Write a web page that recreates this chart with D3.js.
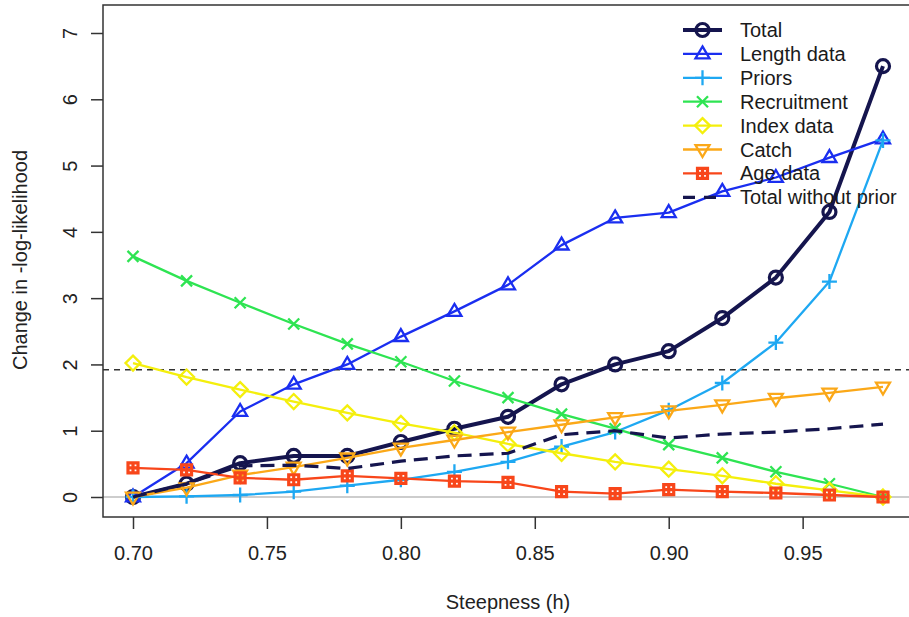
<!DOCTYPE html>
<html>
<head>
<meta charset="utf-8">
<script src="https://cdn.jsdelivr.net/npm/d3@7"></script>
<style>
html,body{margin:0;padding:0;background:#fff;}
svg{display:block;font-family:"Liberation Sans",Arial,Helvetica,sans-serif;}
</style>
</head>
<body>
<svg id="chart" width="909" height="617"></svg>
<script>
const steepness = [0.70,0.72,0.74,0.76,0.78,0.80,0.82,0.84,0.86,0.88,0.90,0.92,0.94,0.96,0.98];
const total       = [0, 0.2, 0.51, 0.62, 0.62, 0.83, 1.03, 1.21, 1.7, 2.0, 2.2, 2.7, 3.31, 4.3, 6.5];
const lengthData  = [0, 0.51, 1.29, 1.7, 2.0, 2.42, 2.8, 3.2, 3.8, 4.21, 4.29, 4.61, 4.82, 5.12, 5.4];
const priors      = [0, 0.01, 0.03, 0.08, 0.17, 0.26, 0.38, 0.53, 0.76, 0.98, 1.31, 1.72, 2.33, 3.25, 5.38];
const recruitment = [3.63, 3.26, 2.93, 2.61, 2.31, 2.04, 1.75, 1.5, 1.25, 1.03, 0.79, 0.59, 0.38, 0.2, 0];
const indexData   = [2.02, 1.81, 1.62, 1.44, 1.27, 1.11, 0.97, 0.8, 0.66, 0.53, 0.42, 0.32, 0.2, 0.1, 0];
const catchData   = [0, 0.14, 0.33, 0.45, 0.59, 0.74, 0.86, 0.98, 1.09, 1.2, 1.3, 1.39, 1.49, 1.57, 1.66];
const ageData     = [0.44, 0.41, 0.29, 0.26, 0.32, 0.28, 0.24, 0.22, 0.08, 0.05, 0.11, 0.08, 0.06, 0.03, 0];
const totalNoPrior= [0, 0.2, 0.47, 0.48, 0.43, 0.54, 0.62, 0.66, 0.94, 1.0, 0.89, 0.95, 0.98, 1.03, 1.1];
const xTicks = [0.70, 0.75, 0.80, 0.85, 0.90, 0.95];
const yTicks = [0, 1, 2, 3, 4, 5, 6, 7];
const chiLine = 1.92;
const legendLabels = ["Total","Length data","Priors","Recruitment","Index data","Catch","Age data","Total without prior"];

const series = [
  {name:"Total", values: total, color:"#15154e", width:4, marker:"circle", mw:3.2},
  {name:"Length data", values: lengthData, color:"#1a2ef0", width:2.3, marker:"triangle", mw:2.3},
  {name:"Priors", values: priors, color:"#1ea8f2", width:2.3, marker:"plus", mw:2.3},
  {name:"Recruitment", values: recruitment, color:"#2ee452", width:2.3, marker:"cross", mw:2.3},
  {name:"Index data", values: indexData, color:"#f4ef0c", width:2.3, marker:"diamond", mw:2.3},
  {name:"Catch", values: catchData, color:"#fba818", width:2.3, marker:"tridown", mw:2.3},
  {name:"Age data", values: ageData, color:"#f8461a", width:2.3, marker:"squareplus", mw:3.2},
  {name:"Total without prior", values: totalNoPrior, color:"#15154e", width:3.2, marker:null, dash:"14,8"}
];

const svg = d3.select("#chart");
const x = d3.scaleLinear().domain([0.6888, 0.9912]).range([103, 913]);
const y = d3.scaleLinear().domain([0, 7]).range([497, 33]);
const boxTop = 5, boxBottom = 517;
const FS = 20;

function markerPath(type){
  switch(type){
    case "circle": return "M6.5,0A6.5,6.5 0 1,1 -6.5,0A6.5,6.5 0 1,1 6.5,0Z";
    case "triangle": return "M0,-7.5L7,4.4L-7,4.4Z";
    case "tridown": return "M0,7.5L7,-4.4L-7,-4.4Z";
    case "plus": return "M-7.5,0L7.5,0M0,-7.5L0,7.5";
    case "cross": return "M-5.5,-5.5L5.5,5.5M-5.5,5.5L5.5,-5.5";
    case "diamond": return "M0,-7.5L7.5,0L0,7.5L-7.5,0Z";
    case "squareplus": return "M-5,-5L5,-5L5,5L-5,5ZM-5,0L5,0M0,-5L0,5";
  }
  return "";
}

// zero line
svg.append("line").attr("x1",103).attr("x2",913).attr("y1",y(0)).attr("y2",y(0))
  .attr("stroke","#bdbdbd").attr("stroke-width",1.5);
// chi-square line
svg.append("line").attr("x1",103).attr("x2",913).attr("y1",y(chiLine)).attr("y2",y(chiLine))
  .attr("stroke","#333").attr("stroke-width",1.5).attr("stroke-dasharray","6,5");

const line = d3.line().x((d,i)=>x(steepness[i])).y(d=>y(d));
series.forEach(s=>{
  const g = svg.append("g");
  g.append("path").datum(s.values).attr("d",line).attr("fill","none")
    .attr("stroke",s.color).attr("stroke-width",s.width)
    .attr("stroke-dasharray",s.dash||null).attr("stroke-linejoin","round");
  if(s.marker){
    g.selectAll("path.m").data(s.values).join("path").attr("class","m")
      .attr("d",markerPath(s.marker))
      .attr("transform",(d,i)=>`translate(${x(steepness[i])},${y(d)})`)
      .attr("fill","none").attr("stroke",s.color).attr("stroke-width",s.mw);
  }
});

// box
svg.append("rect").attr("x",103).attr("y",boxTop).attr("width",810).attr("height",boxBottom-boxTop)
  .attr("fill","none").attr("stroke","#333").attr("stroke-width",1.5);

// x axis
const xAxis = svg.append("g").attr("transform",`translate(0,${boxBottom})`)
  .call(d3.axisBottom(x).tickValues(xTicks).tickFormat(d3.format(".2f")).tickSize(12).tickPadding(17));
xAxis.select(".domain").remove();
xAxis.selectAll("line").attr("stroke","#333").attr("stroke-width",1.5);
xAxis.selectAll("text").attr("font-size",FS).attr("fill","#222").style("font-family","Liberation Sans, Arial, sans-serif");

// y axis
const yAxis = svg.append("g").attr("transform",`translate(103,0)`)
  .call(d3.axisLeft(y).tickValues(yTicks).tickFormat(d3.format("d")).tickSize(12));
yAxis.select(".domain").remove();
yAxis.selectAll("line").attr("stroke","#333").attr("stroke-width",1.5);
yAxis.selectAll("text").attr("font-size",FS).attr("fill","#222")
  .attr("x",null).attr("dy","0.35em").attr("text-anchor","middle")
  .attr("transform","translate(-33,0) rotate(-90)")
  .style("font-family","Liberation Sans, Arial, sans-serif");

// axis titles
svg.append("text").attr("x",508).attr("y",609).attr("text-anchor","middle")
  .attr("font-size",FS).attr("fill","#222").text("Steepness (h)");
svg.append("text").attr("transform","translate(27,260) rotate(-90)").attr("text-anchor","middle")
  .attr("font-size",FS).attr("fill","#222").text("Change in -log-likelihood");

// legend
const leg = svg.append("g");
series.forEach((s,i)=>{
  const cy = 30 + i*23.9;
  leg.append("line").attr("x1",683).attr("x2",722).attr("y1",cy).attr("y2",cy)
    .attr("stroke",s.color).attr("stroke-width",s.width).attr("stroke-dasharray",s.dash?"12,9":null);
  if(s.marker){
    leg.append("path").attr("d",markerPath(s.marker)).attr("transform",`translate(702.5,${cy})`)
      .attr("fill","none").attr("stroke",s.color).attr("stroke-width",s.mw);
  }
  leg.append("text").attr("x",740).attr("y",cy).attr("dy","0.35em")
    .attr("font-size",FS).attr("fill","#1a1a1a").text(legendLabels[i]);
});
</script>
</body>
</html>
